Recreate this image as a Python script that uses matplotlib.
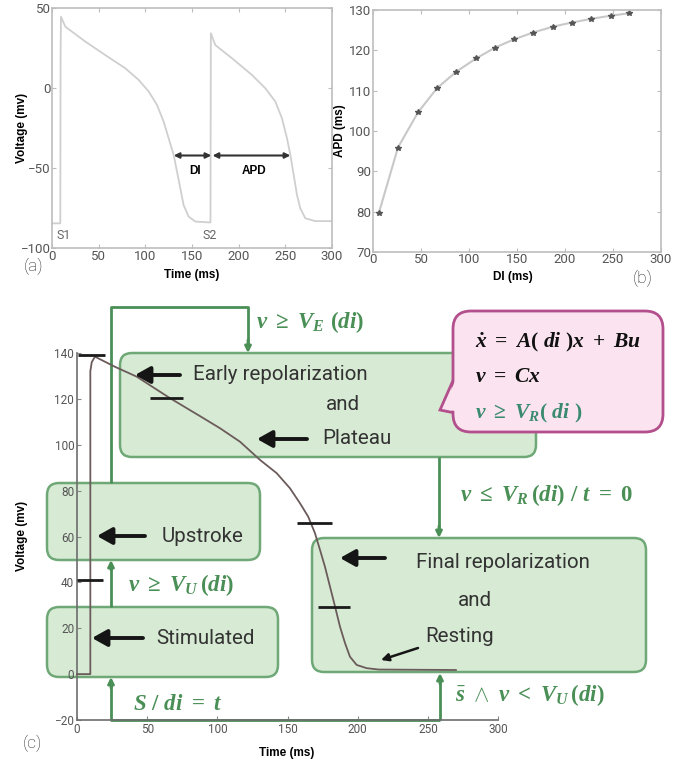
import matplotlib
matplotlib.use('Agg')
import matplotlib.pyplot as plt
from matplotlib.patches import FancyBboxPatch, Polygon, ArrowStyle
from matplotlib.transforms import Affine2D

plt.rcParams['font.family'] = ['Roboto', 'DejaVu Sans']
plt.rcParams['mathtext.fontset'] = 'custom'
plt.rcParams['mathtext.rm'] = 'Liberation Serif:bold'
plt.rcParams['mathtext.it'] = 'Liberation Serif:italic:bold'
plt.rcParams['mathtext.bf'] = 'Liberation Serif:bold'

# (a) two action potentials, S1 and S2 pacing
t_ap = [0, 8.9, 9.2, 9.6, 14.3, 35.7, 57, 78.6, 92.9, 103.6, 112.5, 119.6, 125, 130.4,
        133.9, 137.5, 141, 146.4, 153.6, 167.9, 169.8, 170.2, 175, 192.9, 214.3, 228.6,
        239.3, 246.4, 251.8, 255.4, 258.9, 262.5, 266, 271.4, 282, 300]
v_ap = [-84.4, -84.4, 20, 44.8, 38.5, 29.2, 20.8, 12.5, 5.2, -2, -10.4, -20.8, -31.3,
        -41.7, -52, -62.5, -73, -80.2, -83.3, -83.8, -83.8, 34.4, 27, 18.75, 8.3, 0,
        -8.3, -18.75, -31.3, -41.7, -54, -66.7, -75, -81.25, -83, -83]
di_span = [130.4, 170.7]
apd_span = [172, 255.4]
span_v = -42
stim_t = [12.5, 168.6]
stim_labels = ['S1', 'S2']

# (b) restitution curve
di = [6.2, 26, 46.8, 66.6, 86.7, 107.5, 127.3, 146.7, 166.5, 188, 207.3, 227.2, 248, 267]
apd = [79.75, 95.9, 104.6, 110.6, 114.7, 118, 120.7, 122.7, 124.4, 125.9, 126.9,
       127.8, 128.6, 129.2]

# (c) hybrid automaton action potential
t_c = [0, 9.5, 9.5, 10.5, 12.8, 27, 42.5, 66.3, 87.6, 101.9, 116.2, 130.4, 142.3, 151.8,
       158.9, 164.8, 169.6, 173.2, 176.7, 180.3, 183.9, 187.4, 191, 194.5, 199.3, 206.4,
       215, 270]
v_c = [0, 0, 132, 136, 138.4, 134, 129.7, 120.3, 112.5, 107.2, 101.3, 93.4, 87.6, 81,
       74.5, 68.6, 61.4, 54.1, 46.8, 38.1, 29.4, 20.7, 13.5, 7.6, 4, 2.6, 2, 1.8]
mark_v = [139, 120.4, 65.9, 41, 29.3]
mark_t0 = [0.7, 52, 156.8, 0, 171.7]
mark_t1 = [19.9, 75.5, 181.7, 18.5, 194.5]

W, H = 686, 766
fig = plt.figure(figsize=(W / 100, H / 100), dpi=100)
px = Affine2D().scale(1 / W, -1 / H).translate(0, 1) + fig.transFigure

GREEN = '#4a8f56'
BOXFC = '#d3e9d0'
BOXEC = '#62a06b'
GRAYTXT = '#333333'


def style_box(ax):
    for s in ax.spines.values():
        s.set_color('#bdbdbd')
        s.set_linewidth(1.2)
    ax.tick_params(direction='in', top=True, right=True, length=3, color='#bdbdbd',
                   labelcolor='#555555', labelsize=9.5, pad=1)


# ---- panel (a)
ax_a = fig.add_axes([52 / W, 1 - 248.3 / H, 280 / W, 240 / H])
ax_a.plot(t_ap, v_ap, color='#cfcfcf', lw=1.3)
ax_a.set_xlim(0, 300)
ax_a.set_ylim(-100, 50)
ax_a.set_xticks(range(0, 301, 50))
ax_a.set_yticks([-100, -50, 0, 50])
style_box(ax_a)
for span in (di_span, apd_span):
    ax_a.annotate('', xy=(span[1], span_v), xytext=(span[0], span_v),
                  arrowprops=dict(arrowstyle='<|-|>', color='#333333', lw=1.5,
                                  mutation_scale=8, shrinkA=0, shrinkB=0))
ax_a.text(153.6, -51.5, 'DI', ha='center', va='center', fontsize=8.5,
          fontweight='bold', family='Liberation Sans')
ax_a.text(216, -51.5, 'APD', ha='center', va='center', fontsize=8.5,
          fontweight='bold', family='Liberation Sans')
for t, lab in zip(stim_t, stim_labels):
    ax_a.text(t, -92, lab, ha='center', va='center', fontsize=9, color='#666666')

# ---- panel (b)
ax_b = fig.add_axes([373 / W, 1 - 252 / H, 288 / W, 242 / H])
ax_b.plot(di, apd, color='#c8c8c8', lw=1.5, marker='*', ms=4, mfc='#555555',
          mec='#555555')
ax_b.set_xlim(0, 300)
ax_b.set_ylim(70, 130)
ax_b.set_xticks(range(0, 301, 50))
ax_b.set_yticks(range(70, 131, 10))
style_box(ax_b)

# ---- panel (c)
ax_c = fig.add_axes([77 / W, 1 - 720 / H, 421 / W, 367 / H])
ax_c.set_facecolor('none')
ax_c.set_xlim(0, 300)
ax_c.set_ylim(-20, 140)
ax_c.set_xticks(range(0, 301, 50))
ax_c.set_yticks(range(-20, 141, 20))
for side in ('top', 'right'):
    ax_c.spines[side].set_visible(False)
for side in ('left', 'bottom'):
    ax_c.spines[side].set_color('#6d6d6d')
    ax_c.spines[side].set_linewidth(1.2)
ax_c.tick_params(direction='in', length=3, color='#888888', labelcolor='#555555',
                 labelsize=8.5, pad=2)
ax_c.plot(t_c, v_c, color='#6b5b5b', lw=1.3, zorder=3, clip_on=False)
ax_c.hlines(mark_v, mark_t0, mark_t1, color='#1a1a1a', lw=2, zorder=4, clip_on=False)

# state boxes (figure pixels: left, top, right, bottom)
boxes = [(120, 353, 536, 457), (47, 483, 260, 560), (47, 607, 278, 677),
         (312, 538, 646, 672)]
for l, t, r, b in boxes:
    ax_c.add_patch(FancyBboxPatch((l, t), r - l, b - t,
                                  boxstyle='round,pad=0,rounding_size=12',
                                  transform=px, fc=BOXFC, ec=BOXEC, lw=1.8,
                                  alpha=0.9, zorder=1, clip_on=False))

# speech bubble
ax_c.add_patch(Polygon([(455, 376), (440, 410), (470, 416)], closed=True, transform=px,
                       fc='#fbe4ef', ec='#b34f8c', lw=2, zorder=5, clip_on=False))
ax_c.add_patch(FancyBboxPatch((453, 311), 210, 121,
                              boxstyle='round,pad=0,rounding_size=18', transform=px,
                              fc='#fbe4ef', ec='#b34f8c', lw=2, zorder=6, clip_on=False))
ax_c.add_patch(Polygon([(456, 379), (443, 408.5), (466, 413.5), (462, 379)],
                       closed=True, transform=px, fc='#fbe4ef', ec='none', zorder=7,
                       clip_on=False))

# green transition lines
gline = dict(color=GREEN, lw=2, transform=px, clip_on=False, zorder=2,
             solid_capstyle='butt')
ax_c.plot([111, 111, 248, 248], [483, 307, 307, 346], **gline)
ax_c.plot([111, 111], [607, 566], **gline)
ax_c.plot([440, 111, 111], [720, 720, 684], **gline)
ax_c.plot([440, 440], [720, 678], **gline)
ax_c.plot([439, 439], [457, 532], **gline)


def garrow(x, y0, y1):
    ax_c.annotate('', xy=(x, y1), xytext=(x, y0), xycoords=px, textcoords=px,
                  arrowprops=dict(arrowstyle='-|>', color=GREEN, lw=2,
                                  mutation_scale=9, shrinkA=0, shrinkB=0),
                  annotation_clip=False, zorder=2)


garrow(248, 340, 353)
garrow(111, 570, 560)
garrow(111, 688, 677)
garrow(440, 684, 673)
garrow(439, 526, 538)

# black pointer arrows (tail, tip)
pointers = [((180, 375), (135, 375)), ((307, 439), (257, 439)),
            ((145, 536), (97, 536)), ((143, 638), (92, 638)),
            ((385, 558), (340, 558))]
for tail, tip in pointers:
    ax_c.annotate('', xy=tip, xytext=tail, xycoords=px, textcoords=px,
                  arrowprops=dict(arrowstyle=ArrowStyle('-|>', head_length=0.5,
                                                        head_width=0.28),
                                  color='#151515', lw=2.8, mutation_scale=18,
                                  shrinkA=0, shrinkB=0),
                  annotation_clip=False, zorder=4)
ax_c.annotate('', xy=(381, 660), xytext=(418, 648), xycoords=px, textcoords=px,
              arrowprops=dict(arrowstyle='-|>', color='#151515', lw=1.8,
                              mutation_scale=11, shrinkA=0, shrinkB=0),
              annotation_clip=False, zorder=4)

# state names
state_txt = dict(transform=px, fontsize=14.8, color=GRAYTXT, va='center', zorder=5)
ax_c.text(193, 375, 'Early repolarization', ha='left', **state_txt)
ax_c.text(343, 405, 'and', ha='center', **state_txt)
ax_c.text(322, 438, 'Plateau', ha='left', **state_txt)
ax_c.text(162, 536, 'Upstroke', ha='left', **state_txt)
ax_c.text(156, 638, 'Stimulated', ha='left', **state_txt)
ax_c.text(416, 562, 'Final repolarization', ha='left', **state_txt)
ax_c.text(475, 600, 'and', ha='center', **state_txt)
ax_c.text(425, 637, 'Resting', ha='left', **state_txt)

# guard conditions
gtxt = dict(transform=px, fontsize=16.5, color=GREEN, va='center', ha='left', zorder=5)
ax_c.text(256, 322, r'$v\ \geq\ V_E\ (di)$', **gtxt)
ax_c.text(460, 495, r'$v\ \leq\ V_R\,(di)\ /\ t\ =\ 0$', **gtxt)
ax_c.text(128, 585, r'$v\ \geq\ V_U\,(di)$', **gtxt)
ax_c.text(133, 703, r'$S\ /\ di\ =\ t$', **gtxt)
ax_c.text(455, 695, r'$\bar{s}\ \wedge\ v\ <\ V_U\,(di)$', **gtxt)

btxt = dict(transform=px, fontsize=15.5, va='center', ha='left', zorder=8)
ax_c.text(475, 342, r'$\dot{x}\ =\ A(\ di\ )x\ +\ Bu$', color='#111111', **btxt)
ax_c.text(475, 377, r'$v\ =\ Cx$', color='#111111', **btxt)
ax_c.text(475, 413, r'$v\ \geq\ V_R(\ di\ )$', color='#3a8a70', **btxt)

# axis labels and panel tags
lab = dict(transform=px, fontsize=8.5, fontweight='bold', family='Liberation Sans',
           ha='center', va='center')
fig.text(22, 128, 'Voltage (mv)', rotation=90, **lab)
fig.text(192, 275, 'Time (ms)', **lab)
fig.text(340, 131, 'APD (ms)', rotation=90, **lab)
fig.text(513, 277, 'DI (ms)', **lab)
fig.text(22, 536, 'Voltage (mv)', rotation=90, **lab)
fig.text(287, 753, 'Time (ms)', **lab)

tag = dict(transform=px, fontsize=12.5, fontweight='light', color='#222222',
           ha='center', va='center')
fig.text(34, 266, '(a)', **tag)
fig.text(643, 278, '(b)', **tag)
fig.text(32, 743, '(c)', **tag)

fig.savefig('out.png', dpi=100)
